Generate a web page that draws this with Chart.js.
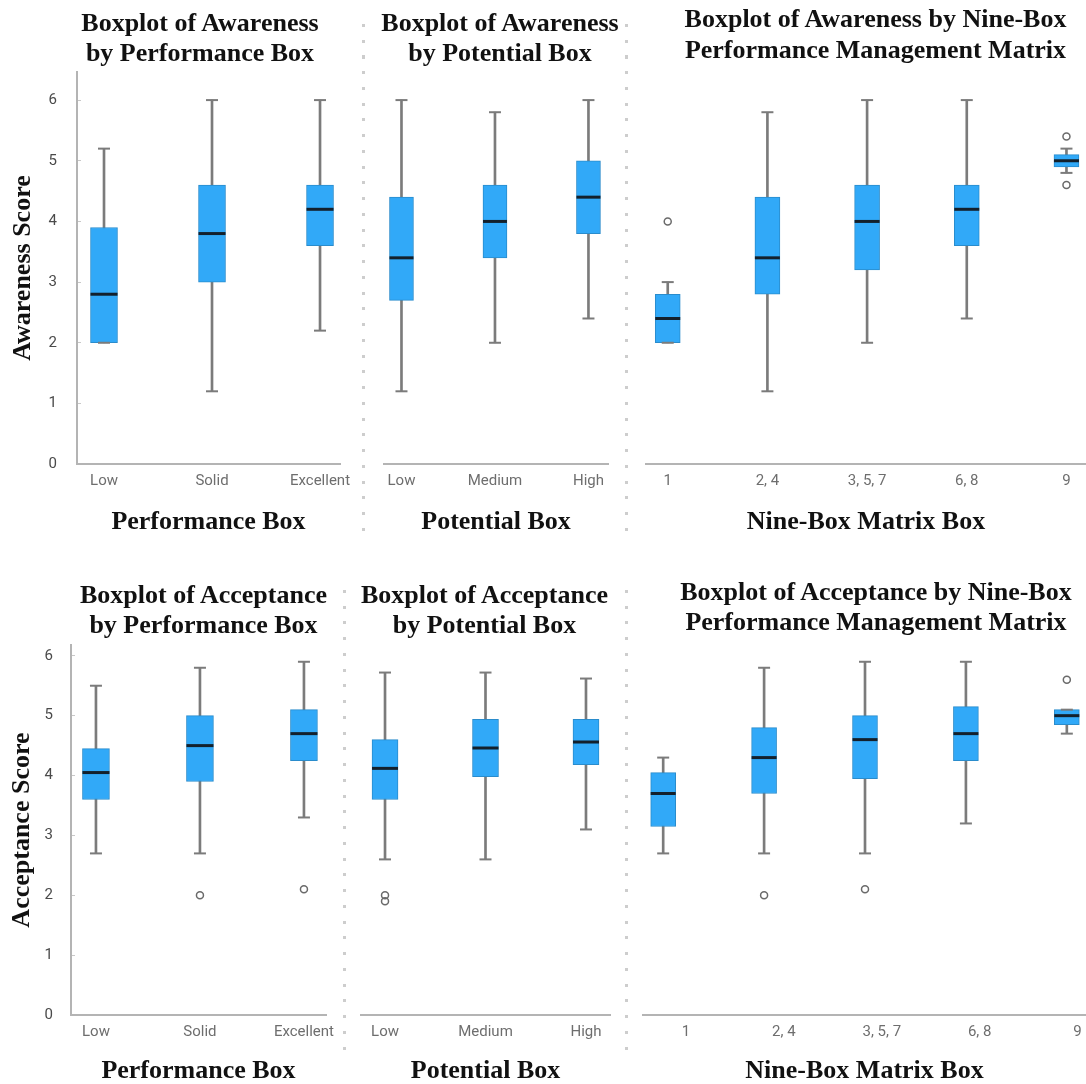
<!DOCTYPE html>
<html>
<head>
<meta charset="utf-8">
<title>Awareness and Acceptance boxplots by Nine-Box</title>
<script src="https://cdn.jsdelivr.net/npm/chart.js@4.4.1/dist/chart.umd.min.js"></script>
<style>
  html, body { margin: 0; padding: 0; background: #fff; width: 1086px; height: 1084px; overflow: hidden; }
  #page { position: relative; width: 1086px; height: 1084px; overflow: hidden; }
  #page canvas { position: absolute; }
  .ttl { position: absolute; width: 460px; text-align: center; white-space: nowrap;
         font: bold 26px/30px 'Liberation Serif', 'Times New Roman', serif; color: #111; }
  .sep { position: absolute; width: 3px;
         background: repeating-linear-gradient(to bottom, #cdcdcd 0, #cdcdcd 3px, transparent 3px, transparent 15.75px); }
</style>
</head>
<body>
<div id="page"></div>
<script>
// ---- categories and tick labels ----
const performanceBoxes = ['Low', 'Solid', 'Excellent'];
const potentialBoxes = ['Low', 'Medium', 'High'];
const nineBoxes = ['1', '2, 4', '3, 5, 7', '6, 8', '9'];
const scoreTicks = [0, 1, 2, 3, 4, 5, 6];

// ---- Awareness by Performance Box ----
const awPerfMin = [2.0, 1.2, 2.2];
const awPerfQ1  = [2.0, 3.0, 3.6];
const awPerfMed = [2.8, 3.8, 4.2];
const awPerfQ3  = [3.9, 4.6, 4.6];
const awPerfMax = [5.2, 6.0, 6.0];
const awPerfOut = [[], [], []];

// ---- Awareness by Potential Box ----
const awPotMin = [1.2, 2.0, 2.4];
const awPotQ1  = [2.7, 3.4, 3.8];
const awPotMed = [3.4, 4.0, 4.4];
const awPotQ3  = [4.4, 4.6, 5.0];
const awPotMax = [6.0, 5.8, 6.0];
const awPotOut = [[], [], []];

// ---- Awareness by Nine-Box ----
const awNineMin = [2.0, 1.2, 2.0, 2.4, 4.8];
const awNineQ1  = [2.0, 2.8, 3.2, 3.6, 4.9];
const awNineMed = [2.4, 3.4, 4.0, 4.2, 5.0];
const awNineQ3  = [2.8, 4.4, 4.6, 4.6, 5.1];
const awNineMax = [3.0, 5.8, 6.0, 6.0, 5.2];
const awNineOut = [[4.0], [], [], [], [5.4, 4.6]];

// ---- Acceptance by Performance Box ----
const acPerfMin = [2.7, 2.7, 3.3];
const acPerfQ1  = [3.6, 3.9, 4.25];
const acPerfMed = [4.05, 4.5, 4.7];
const acPerfQ3  = [4.45, 5.0, 5.1];
const acPerfMax = [5.5, 5.8, 5.9];
const acPerfOut = [[], [2.0], [2.1]];

// ---- Acceptance by Potential Box ----
const acPotMin = [2.6, 2.6, 3.1];
const acPotQ1  = [3.6, 3.98, 4.18];
const acPotMed = [4.12, 4.46, 4.56];
const acPotQ3  = [4.6, 4.94, 4.94];
const acPotMax = [5.72, 5.72, 5.62];
const acPotOut = [[2.0, 1.9], [], []];

// ---- Acceptance by Nine-Box ----
const acNineMin = [2.7, 2.7, 2.7, 3.2, 4.7];
const acNineQ1  = [3.15, 3.7, 3.95, 4.25, 4.85];
const acNineMed = [3.7, 4.3, 4.6, 4.7, 5.0];
const acNineQ3  = [4.05, 4.8, 5.0, 5.15, 5.1];
const acNineMax = [4.3, 5.8, 5.9, 5.9, 5.1];
const acNineOut = [[], [2.0], [2.1], [], [5.6]];

// ---- styling ----
const BOX_FILL = '#31a9f8';
const BOX_EDGE = '#2a8ccc';
const MEDIAN = '#13202c';
const WHISKER = '#7b7b7b';
const AXIS = '#b4b4b4';
const SERIF = "'Liberation Serif', 'Times New Roman', serif";

Chart.defaults.animation = false;
Chart.defaults.events = [];
Chart.defaults.plugins.legend.display = false;
Chart.defaults.plugins.tooltip.enabled = false;
Chart.defaults.font.family = 'Roboto';

const page = document.getElementById('page');

// Panel geometry and data wiring.
// labelRange (optional): the category axis carries its labels on a slightly
// different spacing than the boxes, so it gets its own range.
const panels = [
  { x: 0, y: 0, w: 362, h: 537, pad: { top: 72, left: 0, right: 22, bottom: 0 },
    labels: performanceBoxes, min: awPerfMin, q1: awPerfQ1, med: awPerfMed, q3: awPerfQ3, max: awPerfMax, out: awPerfOut,
    xMin: -0.25, xMax: 2.185, yMax: 6.463, boxW: 27, xTitle: 'Performance Box', xTitlePad: 9,
    yTitle: 'Awareness Score', yW: 77, yTickPad: 20, yTitlePad: 8 },
  { x: 362, y: 0, w: 264, h: 537, pad: { top: 72, left: 22, right: 18, bottom: 0 },
    labels: potentialBoxes, min: awPotMin, q1: awPotQ1, med: awPotMed, q3: awPotQ3, max: awPotMax, out: awPotOut,
    xMin: -0.187, xMax: 2.209, yMax: 6.463, boxW: 24, xTitle: 'Potential Box', xTitlePad: 9 },
  { x: 626, y: 0, w: 490, h: 537, pad: { top: 72, left: 20, right: 30, bottom: 0 },
    labels: nineBoxes, min: awNineMin, q1: awNineQ1, med: awNineMed, q3: awNineQ3, max: awNineMax, out: awNineOut,
    xMin: -0.218, xMax: 4.196, yMax: 6.463, boxW: 25, xTitle: 'Nine-Box Matrix Box', xTitlePad: 9 },
  { x: 0, y: 580, w: 344, h: 506, pad: { top: 65, left: 0, right: 18, bottom: 0 },
    labels: performanceBoxes, min: acPerfMin, q1: acPerfQ1, med: acPerfMed, q3: acPerfQ3, max: acPerfMax, out: acPerfOut,
    xMin: -0.24, xMax: 2.212, yMax: 6.18, boxW: 27, xTitle: 'Performance Box', xTitlePad: 7,
    yTitle: 'Acceptance Score', yW: 71, yTickPad: 18, yTitlePad: 7 },
  { x: 344, y: 580, w: 282, h: 506, pad: { top: 65, left: 17, right: 16, bottom: 0 },
    labels: potentialBoxes, min: acPotMin, q1: acPotQ1, med: acPotMed, q3: acPotQ3, max: acPotMax, out: acPotOut,
    xMin: -0.239, xMax: 2.239, yMax: 6.18, boxW: 26, xTitle: 'Potential Box', xTitlePad: 7 },
  { x: 626, y: 580, w: 490, h: 506, pad: { top: 65, left: 17, right: 30, bottom: 0 },
    labels: nineBoxes, min: acNineMin, q1: acNineQ1, med: acNineMed, q3: acNineQ3, max: acNineMax, out: acNineOut,
    xMin: -0.2, xMax: 4.19, yMax: 6.18, boxW: 25, xTitle: 'Nine-Box Matrix Box', xTitlePad: 7,
    labelRange: [-0.439, 4.086] }
];

// Panel headings
const headings = [
  { cx: 200,   top: 8,   lh: 30, lines: ['Boxplot of Awareness', 'by Performance Box'] },
  { cx: 500,   top: 8,   lh: 30, lines: ['Boxplot of Awareness', 'by Potential Box'] },
  { cx: 875.5, top: 3,   lh: 31, lines: ['Boxplot of Awareness by Nine-Box', 'Performance Management Matrix'] },
  { cx: 203.5, top: 580, lh: 30, lines: ['Boxplot of Acceptance', 'by Performance Box'] },
  { cx: 484.5, top: 580, lh: 30, lines: ['Boxplot of Acceptance', 'by Potential Box'] },
  { cx: 876,   top: 577, lh: 30, lines: ['Boxplot of Acceptance by Nine-Box', 'Performance Management Matrix'] }
];

// Dotted dividers between panels
const dividers = [
  { x: 362, top: 24, bottom: 532 },
  { x: 625, top: 24, bottom: 532 },
  { x: 343, top: 590, bottom: 1062 },
  { x: 625, top: 590, bottom: 1062 }
];

dividers.forEach(d => {
  const el = document.createElement('div');
  el.className = 'sep';
  el.style.left = d.x + 'px';
  el.style.top = d.top + 'px';
  el.style.height = (d.bottom - d.top) + 'px';
  page.appendChild(el);
});

function buildPanel(p) {
  const canvas = document.createElement('canvas');
  canvas.width = p.w;
  canvas.height = p.h;
  canvas.style.left = p.x + 'px';
  canvas.style.top = p.y + 'px';
  canvas.style.width = p.w + 'px';
  canvas.style.height = p.h + 'px';
  page.appendChild(canvas);

  const idx = p.labels.map((_, i) => i);
  const whiskers = idx.map(i => ({ x: i, y: [p.min[i], p.max[i]] }));
  const boxes = idx.map(i => ({ x: i, y: [p.q1[i], p.q3[i]] }));
  const medians = idx.map(i => ({ x: i, y: p.med[i] }));
  const caps = idx.flatMap(i => [{ x: i, y: p.min[i] }, { x: i, y: p.max[i] }]);
  const outliers = idx.flatMap(i => p.out[i].map(v => ({ x: i, y: v })));

  const titleFont = { family: SERIF, weight: 'bold', size: 26, lineHeight: 1.15 };
  const showY = !!p.yTitle;

  // The visible category axis: ticks, labels, baseline and title
  const categoryAxis = (lo, hi) => ({
    type: 'linear', position: 'bottom', min: lo, max: hi, offset: false,
    grid: { display: false, drawTicks: false },
    border: { display: true, color: AXIS, width: 2 },
    afterBuildTicks: s => { s.ticks = idx.map(i => ({ value: i })); },
    ticks: {
      padding: 8, color: '#6e6e6e', autoSkip: false, maxRotation: 0, minRotation: 0,
      font: { family: 'Roboto', size: 15, lineHeight: 1.2 },
      callback: v => p.labels[Math.round(v)]
    },
    title: { display: true, text: p.xTitle, color: '#111', font: titleFont,
             padding: { top: p.xTitlePad, bottom: 0 } }
  });

  const scales = {
    x: p.labelRange
      ? { type: 'linear', display: false, min: p.xMin, max: p.xMax, offset: false }
      : categoryAxis(p.xMin, p.xMax),
    y: {
      type: 'linear', display: showY, min: 0, max: p.yMax,
      grid: { display: true, drawOnChartArea: false, drawTicks: true, tickLength: -4, color: '#c8c8c8', lineWidth: 1 },
      border: { display: true, color: AXIS, width: 2 },
      afterBuildTicks: s => { s.ticks = scoreTicks.map(v => ({ value: v })); },
      afterFit: s => { if (showY) s.width = p.yW; },
      ticks: { padding: (p.yTickPad || 0) + 4, color: '#4a4a4a',
               font: { family: 'Roboto', size: 15, lineHeight: 1.2 } },
      title: { display: showY, text: p.yTitle || '', color: '#111', font: titleFont,
               padding: { top: p.yTitlePad || 0, bottom: 0 } }
    }
  };
  if (p.labelRange) scales.xLabels = categoryAxis(p.labelRange[0], p.labelRange[1]);

  new Chart(canvas, {
    type: 'bar',
    data: {
      datasets: [
        { type: 'scatter', data: medians, order: 0,
          pointStyle: 'line', pointRadius: p.boxW / 2, pointHoverRadius: p.boxW / 2,
          pointBorderColor: MEDIAN, pointBorderWidth: 3, borderColor: MEDIAN },
        { type: 'scatter', data: caps, order: 1,
          pointStyle: 'line', pointRadius: 6, pointHoverRadius: 6,
          pointBorderColor: WHISKER, pointBorderWidth: 2, borderColor: WHISKER },
        { type: 'scatter', data: outliers, order: 1,
          pointStyle: 'circle', pointRadius: 3.5, pointHoverRadius: 3.5,
          pointBorderColor: '#6a6a6a', pointBackgroundColor: 'rgba(255,255,255,0)', pointBorderWidth: 1.5,
          borderColor: '#6a6a6a' },
        { type: 'bar', data: boxes, order: 2, grouped: false, barThickness: p.boxW,
          backgroundColor: BOX_FILL, borderColor: BOX_EDGE, borderWidth: 1, borderSkipped: false },
        { type: 'bar', data: whiskers, order: 3, grouped: false, barThickness: 2,
          backgroundColor: WHISKER, borderWidth: 0 }
      ]
    },
    options: {
      responsive: false,
      maintainAspectRatio: false,
      layout: { padding: p.pad },
      scales
    }
  });
}

panels.forEach(buildPanel);

headings.forEach(h => {
  const el = document.createElement('div');
  el.className = 'ttl';
  el.style.left = (h.cx - 230) + 'px';
  el.style.top = h.top + 'px';
  el.style.lineHeight = h.lh + 'px';
  h.lines.forEach((line, i) => {
    if (i) el.appendChild(document.createElement('br'));
    el.appendChild(document.createTextNode(line));
  });
  page.appendChild(el);
});
</script>
</body>
</html>
